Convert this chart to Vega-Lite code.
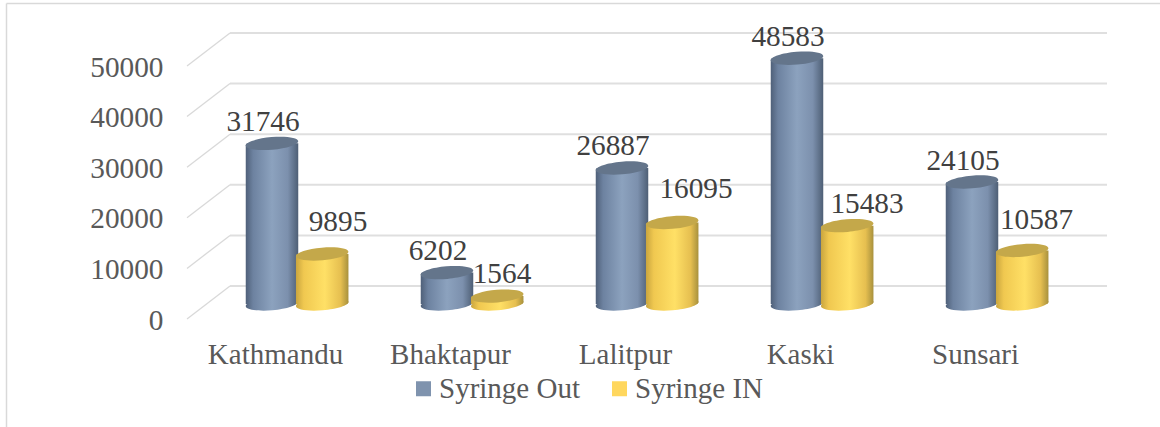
{"$schema":"https://vega.github.io/schema/vega-lite/v6.json","width":875,"height":253,"autosize":"none","padding":{"left":187,"top":66,"right":98,"bottom":108},"background":"white","config":{"view":{"stroke":null},"font":"Liberation Serif"},
"data":{"values":[
{"group":"Kathmandu","series":"Syringe Out","value":31746},{"group":"Kathmandu","series":"Syringe IN","value":9895},
{"group":"Bhaktapur","series":"Syringe Out","value":6202},{"group":"Bhaktapur","series":"Syringe IN","value":1564},
{"group":"Lalitpur","series":"Syringe Out","value":26887},{"group":"Lalitpur","series":"Syringe IN","value":16095},
{"group":"Kaski","series":"Syringe Out","value":48583},{"group":"Kaski","series":"Syringe IN","value":15483},
{"group":"Sunsari","series":"Syringe Out","value":24105},{"group":"Sunsari","series":"Syringe IN","value":10587}]},
"layer":[
{"data":{"values":[{"k":"a"}]},"mark":{"type":"rule","stroke":"#d9d9d9","strokeWidth":1.5},"encoding":{"x":{"value":-180.5},"y":{"value":-62.5},"y2":{"value":361}}},
{"data":{"values":[{"k":"a"}]},"mark":{"type":"rule","stroke":"#d9d9d9","strokeWidth":1.5},"encoding":{"x":{"value":-180.5},"x2":{"value":973},"y":{"value":-62.5}}},
{"data":{"values":[{"tick":0},{"tick":10000},{"tick":20000},{"tick":30000},{"tick":40000},{"tick":50000}]},"mark":{"type":"rule","stroke":"#dfdfdf","strokeWidth":2,"yOffset":-33},"encoding":{"x":{"value":43},"x2":{"value":920},"y":{"field":"tick","type":"quantitative","scale":{"domain":[0,50000],"nice":false},"axis":{"title":null,"values":[0,10000,20000,30000,40000,50000],"format":"d","grid":false,"domain":false,"ticks":false,"labelPadding":24,"labelOffset":1,"labelFontSize":29.3,"labelColor":"#595959","labelFont":"Liberation Serif"}}}},
{"data":{"values":[{"tick":0},{"tick":10000},{"tick":20000},{"tick":30000},{"tick":40000},{"tick":50000}]},"mark":{"type":"rule","stroke":"#d9d9d9","strokeWidth":1.3,"y2Offset":-33},"encoding":{"x":{"value":0},"x2":{"value":43},"y":{"field":"tick","type":"quantitative"},"y2":{"field":"tick"}}},
{"mark":{"type":"bar","size":1,"xOffset":-2},"encoding":{"x":{"field":"group","type":"nominal","sort":["Kathmandu","Bhaktapur","Lalitpur","Kaski","Sunsari"],"scale":{"paddingInner":0,"paddingOuter":0},"axis":{"title":null,"labelAngle":0,"domain":false,"ticks":false,"labelPadding":21,"labelOffset":1,"labelFontSize":29,"labelColor":"#595959","labelFont":"Liberation Serif"}},"y":{"datum":0,"type":"quantitative"},"y2":{"datum":0},"color":{"field":"series","type":"nominal","scale":{"domain":["Syringe Out","Syringe IN"],"range":["#7f93ae","#ffd75e"]},"legend":{"title":null,"orient":"none","direction":"horizontal","legendX":222,"legendY":308,"symbolType":"square","symbolSize":225,"symbolStrokeWidth":0,"labelFontSize":29,"labelColor":"#595959","labelFont":"Liberation Serif","columnPadding":25,"labelOffset":1}}}},
{"transform":[{"filter":"datum.series=='Syringe Out'"}],"layer":[
{"mark":{"type":"point","filled":true,"opacity":1,"size":2756,"xOffset":-2.5,"yOffset":-15,"shape":"M-1,0.087A1,0.24,-5,1,1,1,-0.087A1,0.24,-5,1,1,-1,0.087Z","fill":{"gradient":"linear","x1":0,"x2":1,"y1":0,"y2":0,"stops":[{"offset":0,"color":"#4f6079"},{"offset":0.14,"color":"#6d82a0"},{"offset":0.5,"color":"#8ca2be"},{"offset":0.8,"color":"#7c90ad"},{"offset":1,"color":"#4e5f75"}]}},"encoding":{"x":{"field":"group","type":"nominal","sort":["Kathmandu","Bhaktapur","Lalitpur","Kaski","Sunsari"]},"y":{"datum":0,"type":"quantitative"}}},
{"mark":{"type":"bar","size":52.5,"xOffset":-2.5,"yOffset":-15,"y2Offset":-15,"cornerRadiusTopLeft":2,"cornerRadiusBottomRight":2,"fill":{"gradient":"linear","x1":0,"x2":1,"y1":0,"y2":0,"stops":[{"offset":0,"color":"#4f6079"},{"offset":0.14,"color":"#6d82a0"},{"offset":0.5,"color":"#8ca2be"},{"offset":0.8,"color":"#7c90ad"},{"offset":1,"color":"#4e5f75"}]}},"encoding":{"x":{"field":"group","type":"nominal","sort":["Kathmandu","Bhaktapur","Lalitpur","Kaski","Sunsari"]},"y":{"field":"value","type":"quantitative","stack":null},"y2":{"datum":0}}},
{"mark":{"type":"point","filled":true,"opacity":1,"size":2756,"xOffset":-2.5,"yOffset":-15,"shape":"M-1,0.087A1,0.24,-5,1,1,1,-0.087A1,0.24,-5,1,1,-1,0.087Z","fill":"#64758b"},"encoding":{"x":{"field":"group","type":"nominal","sort":["Kathmandu","Bhaktapur","Lalitpur","Kaski","Sunsari"]},"y":{"field":"value","type":"quantitative"}}},
{"mark":{"type":"text","fontSize":29.3,"font":"Liberation Serif","color":"#404040","dx":-11.5,"dy":-36.5,"baseline":"middle"},"encoding":{"x":{"field":"group","type":"nominal","sort":["Kathmandu","Bhaktapur","Lalitpur","Kaski","Sunsari"]},"y":{"field":"value","type":"quantitative"},"text":{"field":"value","type":"quantitative","format":"d"}}}
]},
{"transform":[{"filter":"datum.series=='Syringe IN'"}],"layer":[
{"mark":{"type":"point","filled":true,"opacity":1,"size":2756,"xOffset":47.7,"yOffset":-15,"shape":"M-1,0.087A1,0.24,-5,1,1,1,-0.087A1,0.24,-5,1,1,-1,0.087Z","fill":{"gradient":"linear","x1":0,"x2":1,"y1":0,"y2":0,"stops":[{"offset":0,"color":"#c9a53f"},{"offset":0.15,"color":"#f0c850"},{"offset":0.55,"color":"#ffe066"},{"offset":0.85,"color":"#e6bf50"},{"offset":1,"color":"#a8913d"}]}},"encoding":{"x":{"field":"group","type":"nominal","sort":["Kathmandu","Bhaktapur","Lalitpur","Kaski","Sunsari"]},"y":{"datum":0,"type":"quantitative"}}},
{"mark":{"type":"bar","size":52.5,"xOffset":47.7,"yOffset":-15,"y2Offset":-15,"cornerRadiusTopLeft":2,"cornerRadiusBottomRight":2,"fill":{"gradient":"linear","x1":0,"x2":1,"y1":0,"y2":0,"stops":[{"offset":0,"color":"#c9a53f"},{"offset":0.15,"color":"#f0c850"},{"offset":0.55,"color":"#ffe066"},{"offset":0.85,"color":"#e6bf50"},{"offset":1,"color":"#a8913d"}]}},"encoding":{"x":{"field":"group","type":"nominal","sort":["Kathmandu","Bhaktapur","Lalitpur","Kaski","Sunsari"]},"y":{"field":"value","type":"quantitative","stack":null},"y2":{"datum":0}}},
{"mark":{"type":"point","filled":true,"opacity":1,"size":2756,"xOffset":47.7,"yOffset":-15,"shape":"M-1,0.087A1,0.24,-5,1,1,1,-0.087A1,0.24,-5,1,1,-1,0.087Z","fill":"#c4a84a"},"encoding":{"x":{"field":"group","type":"nominal","sort":["Kathmandu","Bhaktapur","Lalitpur","Kaski","Sunsari"]},"y":{"field":"value","type":"quantitative"}}},
{"transform":[{"filter":"datum.group=='Kathmandu'"}],"mark":{"type":"text","fontSize":29.3,"font":"Liberation Serif","color":"#404040","dx":63.5,"dy":-46.9,"baseline":"middle"},"encoding":{"x":{"field":"group","type":"nominal","sort":["Kathmandu","Bhaktapur","Lalitpur","Kaski","Sunsari"]},"y":{"field":"value","type":"quantitative"},"text":{"field":"value","type":"quantitative","format":"d"}}},
{"transform":[{"filter":"datum.group=='Bhaktapur'"}],"mark":{"type":"text","fontSize":29.3,"font":"Liberation Serif","color":"#404040","dx":52.5,"dy":-37,"baseline":"middle"},"encoding":{"x":{"field":"group","type":"nominal","sort":["Kathmandu","Bhaktapur","Lalitpur","Kaski","Sunsari"]},"y":{"field":"value","type":"quantitative"},"text":{"field":"value","type":"quantitative","format":"d"}}},
{"transform":[{"filter":"datum.group=='Lalitpur'"}],"mark":{"type":"text","fontSize":29.3,"font":"Liberation Serif","color":"#404040","dx":71.5,"dy":-48.6,"baseline":"middle"},"encoding":{"x":{"field":"group","type":"nominal","sort":["Kathmandu","Bhaktapur","Lalitpur","Kaski","Sunsari"]},"y":{"field":"value","type":"quantitative"},"text":{"field":"value","type":"quantitative","format":"d"}}},
{"transform":[{"filter":"datum.group=='Kaski'"}],"mark":{"type":"text","fontSize":29.3,"font":"Liberation Serif","color":"#404040","dx":67.5,"dy":-36.7,"baseline":"middle"},"encoding":{"x":{"field":"group","type":"nominal","sort":["Kathmandu","Bhaktapur","Lalitpur","Kaski","Sunsari"]},"y":{"field":"value","type":"quantitative"},"text":{"field":"value","type":"quantitative","format":"d"}}},
{"transform":[{"filter":"datum.group=='Sunsari'"}],"mark":{"type":"text","fontSize":29.3,"font":"Liberation Serif","color":"#404040","dx":62,"dy":-45.4,"baseline":"middle"},"encoding":{"x":{"field":"group","type":"nominal","sort":["Kathmandu","Bhaktapur","Lalitpur","Kaski","Sunsari"]},"y":{"field":"value","type":"quantitative"},"text":{"field":"value","type":"quantitative","format":"d"}}}
]}
]}
